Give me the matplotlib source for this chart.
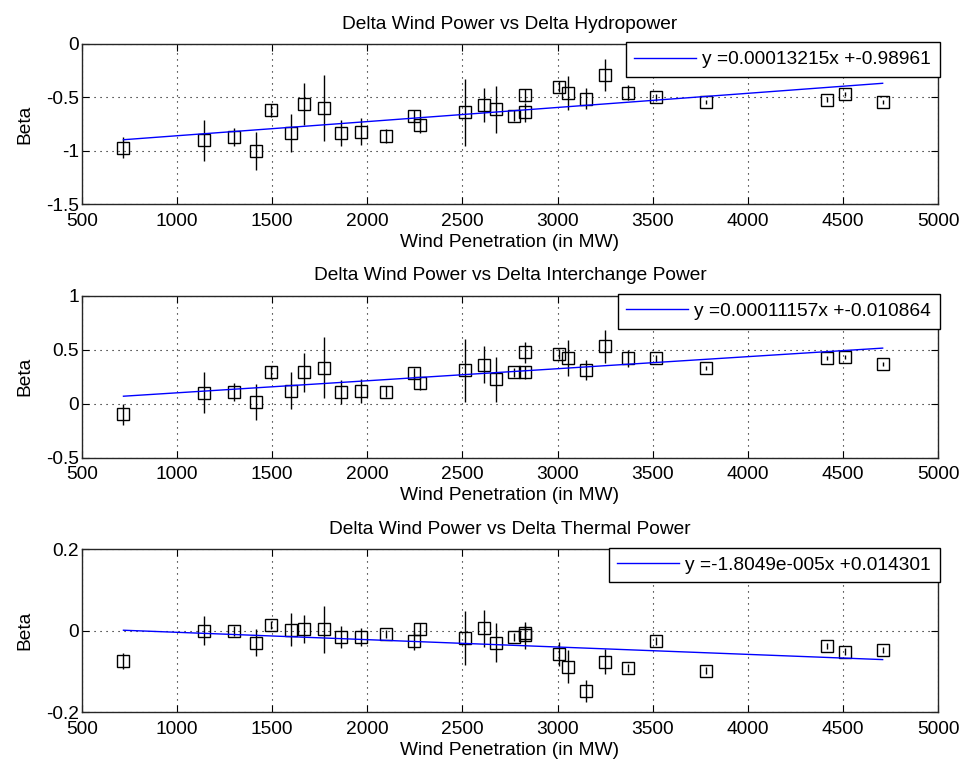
import matplotlib
matplotlib.use("Agg")
import matplotlib.pyplot as plt
import numpy as np
from matplotlib.ticker import FixedLocator, FuncFormatter

plt.rcParams['font.family'] = ['Liberation Sans', 'DejaVu Sans']
plt.rcParams['axes.unicode_minus'] = False

# wind penetration (MW), same points for all three panels
wind = [718, 1144, 1300, 1417, 1496, 1598, 1668, 1771, 1864, 1967, 2098,
        2247, 2279, 2515, 2615, 2676, 2770, 2828, 2830, 3008, 3056, 3149,
        3252, 3368, 3516, 3783, 4418, 4513, 4709]

# hydropower beta and error
beta_hydro = [-0.97, -0.90, -0.87, -1.00, -0.62, -0.83, -0.56, -0.60, -0.83, -0.82,
              -0.86, -0.67, -0.76, -0.64, -0.57, -0.61, -0.67, -0.48, -0.64, -0.40,
              -0.455, -0.51, -0.29, -0.455, -0.50, -0.54, -0.52, -0.47, -0.54]
err_hydro = [0.10, 0.19, 0.086, 0.18, 0.06, 0.18, 0.20, 0.31, 0.12, 0.125,
             0.07, 0.056, 0.072, 0.31, 0.16, 0.22, 0.05, 0.06, 0.087, 0.05,
             0.16, 0.097, 0.15, 0.07, 0.03, 0.02, 0.02, 0.02, 0.02]

# interchange beta and error
beta_inter = [-0.10, 0.10, 0.11, 0.015, 0.29, 0.12, 0.29, 0.335, 0.11, 0.12,
              0.11, 0.28, 0.19, 0.31, 0.36, 0.225, 0.29, 0.475, 0.29, 0.46,
              0.42, 0.31, 0.53, 0.42, 0.42, 0.33, 0.42, 0.43, 0.37]
err_inter = [0.10, 0.19, 0.085, 0.17, 0.06, 0.17, 0.18, 0.28, 0.11, 0.11,
             0.05, 0.05, 0.06, 0.29, 0.17, 0.21, 0.04, 0.10, 0.06, 0.05,
             0.165, 0.095, 0.15, 0.08, 0.03, 0.02, 0.02, 0.02, 0.02]

# thermal beta and error
beta_therm = [-0.074, 0.0, 0.0, -0.029, 0.015, 0.003, 0.004, 0.004, -0.015, -0.015,
              -0.008, -0.026, 0.004, -0.018, 0.006, -0.029, -0.015, -0.006, -0.011, -0.057,
              -0.088, -0.147, -0.076, -0.092, -0.025, -0.098, -0.037, -0.051, -0.047]
err_therm = [0.02, 0.036, 0.012, 0.033, 0.01, 0.04, 0.034, 0.058, 0.027, 0.022,
             0.01, 0.022, 0.015, 0.067, 0.046, 0.048, 0.01, 0.02, 0.033, 0.029,
             0.04, 0.027, 0.031, 0.01, 0.01, 0.008, 0.008, 0.008, 0.008]

titles = ["Delta Wind Power vs Delta Hydropower",
          "Delta Wind Power vs Delta Interchange Power",
          "Delta Wind Power vs Delta Thermal Power"]
slopes = [0.00013215, 0.00011157, -1.8049e-005]
intercepts = [-0.98961, -0.010864, 0.014301]
fit_labels = ["y =0.00013215x +-0.98961",
              "y =0.00011157x +-0.010864",
              "y =-1.8049e-005x +0.014301"]
ylims = [(-1.5, 0), (-0.5, 1), (-0.2, 0.2)]
yticks = [[-1.5, -1, -0.5, 0], [-0.5, 0, 0.5, 1], [-0.2, 0, 0.2]]
xticks = list(range(500, 5001, 500))

betas = [beta_hydro, beta_inter, beta_therm]
errs = [err_hydro, err_inter, err_therm]

fig = plt.figure(figsize=(9.59, 7.65), dpi=100)
# axes rectangles [left, bottom, width, height]
rects = [[0.0855, 0.7327, 0.8926, 0.2098],
         [0.0855, 0.4017, 0.8926, 0.2118],
         [0.0855, 0.0689, 0.8926, 0.2131]]

fs = 13.8
for i in range(3):
    ax = fig.add_axes(rects[i])
    x = np.array(wind)
    ax.errorbar(x, betas[i], yerr=errs[i], fmt='none', ecolor='black',
                elinewidth=1.0, capsize=0, zorder=3)
    ax.plot(x, betas[i], 's', markersize=9, markerfacecolor='none',
            markeredgecolor='black', markeredgewidth=1.0, zorder=4)
    xf = np.array([min(wind), max(wind)])
    ax.plot(xf, slopes[i] * xf + intercepts[i], color='#0000ff', linewidth=1.0,
            label=fit_labels[i], zorder=5)

    ax.set_xlim(500, 5000)
    ax.set_ylim(*ylims[i])
    ax.xaxis.set_major_locator(FixedLocator(xticks))
    ax.yaxis.set_major_locator(FixedLocator(yticks[i]))
    ax.yaxis.set_major_formatter(FuncFormatter(lambda v, p: '%g' % v))
    ax.xaxis.set_major_formatter(FuncFormatter(lambda v, p: '%g' % v))
    ax.grid(True, color='black', linestyle=(0, (1, 4.4)), linewidth=0.8)
    ax.tick_params(direction='in', top=True, right=True, length=5,
                   labelsize=fs, colors='black')
    ax.tick_params(axis='x', pad=6)
    ax.tick_params(axis='y', pad=2)
    for s in ax.spines.values():
        s.set_color('#262626')
        s.set_linewidth(1.0)

    ax.set_title(titles[i], fontsize=fs, pad=11)
    ax.set_xlabel("Wind Penetration (in MW)", fontsize=fs, labelpad=3)
    ax.set_ylabel("Beta", fontsize=fs, labelpad=9)

    leg = ax.legend(loc='upper right', bbox_to_anchor=(1.002, 1.01), borderaxespad=0.0,
                    fancybox=False, framealpha=1, edgecolor='black', fontsize=fs,
                    handlelength=3.2, handletextpad=0.35, borderpad=0.45)
    leg.get_frame().set_linewidth(1.0)

plt.savefig('out.png', dpi=100)
